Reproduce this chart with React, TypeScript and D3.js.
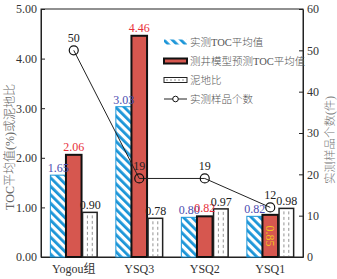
import { useEffect, useRef } from "react";
import * as d3 from "d3";

const categories = ["Yogou组", "YSQ3", "YSQ2", "YSQ1"];
const measuredToc = [1.65, 3.03, 0.8, 0.82];
const modelToc = [2.06, 4.46, 0.82, 0.85];
const mudRatio = [0.9, 0.78, 0.97, 0.98];
const sampleCount = [50, 19, 19, 12];
const leftTicks = [0, 1, 2, 3, 4, 5];
const rightTicks = [0, 10, 20, 30, 40, 50, 60];
const seriesNames = ["实测TOC平均值", "测井模型预测TOC平均值", "泥地比", "实测样品个数"];

const FONT = "'Liberation Serif', 'Times New Roman', 'Noto Sans CJK SC', serif";

export default function App() {
  const svgRef = useRef<SVGSVGElement>(null);

  useEffect(() => {
    if (!svgRef.current) return;
    const svg = d3.select(svgRef.current);
    svg.selectAll("*").remove();

    const width = 337;
    const height = 279;
    const margin = { top: 9, right: 34, bottom: 22, left: 41 };
    const innerW = width - margin.left - margin.right;
    const innerH = height - margin.top - margin.bottom;

    const defs = svg.append("defs");
    const hatch = defs
      .append("pattern")
      .attr("id", "hatch")
      .attr("patternUnits", "userSpaceOnUse")
      .attr("width", 6)
      .attr("height", 6)
      .attr("patternTransform", "rotate(-45)");
    hatch.append("rect").attr("width", 6).attr("height", 6).attr("fill", "#fff");
    hatch.append("rect").attr("width", 2.8).attr("height", 6).attr("fill", "#1b95d8");

    const g = svg
      .append("g")
      .attr("transform", `translate(${margin.left},${margin.top})`);

    const x = d3.scaleBand().domain(categories).range([0, innerW]).padding(0);
    const xs = d3
      .scaleBand()
      .domain(["m", "p", "r"])
      .range([0, x.bandwidth()])
      .paddingInner(0)
      .paddingOuter(0.6);
    const y = d3.scaleLinear().domain([0, 5]).range([innerH, 0]);
    const y2 = d3.scaleLinear().domain([0, 60]).range([innerH, 0]);

    // frame
    g.append("rect")
      .attr("width", innerW)
      .attr("height", innerH)
      .attr("fill", "none")
      .attr("stroke", "#222")
      .attr("stroke-width", 1);

    const styleAxis = (sel: any) => {
      sel.select(".domain").attr("stroke", "#222");
      sel.selectAll("line").attr("stroke", "#222");
      sel
        .selectAll("text")
        .attr("fill", "#333")
        .attr("font-size", "12px")
        .attr("font-family", FONT);
    };

    g.append("g")
      .call(
        d3
          .axisLeft(y)
          .tickValues(leftTicks)
          .tickFormat(d3.format(".2f"))
          .tickSizeInner(-4)
          .tickSizeOuter(0)
          .tickPadding(4)
      )
      .call(styleAxis);

    g.append("g")
      .attr("transform", `translate(${innerW},0)`)
      .call(
        d3
          .axisRight(y2)
          .tickValues(rightTicks)
          .tickFormat(d3.format("d"))
          .tickSizeInner(-4)
          .tickSizeOuter(0)
          .tickPadding(4)
      )
      .call(styleAxis);

    g.append("g")
      .attr("transform", `translate(0,${innerH})`)
      .call(d3.axisBottom(x).tickSize(0).tickPadding(7))
      .call(styleAxis);

    const bw = xs.bandwidth();

    // measured TOC bars (hatched)
    g.selectAll("rect.m")
      .data(categories)
      .join("rect")
      .attr("class", "m")
      .attr("x", (d) => (x(d) ?? 0) + (xs("m") ?? 0))
      .attr("y", (_, i) => y(measuredToc[i]))
      .attr("width", bw)
      .attr("height", (_, i) => innerH - y(measuredToc[i]))
      .attr("fill", "url(#hatch)")
      .attr("stroke", "#1b95d8")
      .attr("stroke-width", 1);

    // model TOC bars
    g.selectAll("rect.p")
      .data(categories)
      .join("rect")
      .attr("class", "p")
      .attr("x", (d) => (x(d) ?? 0) + (xs("p") ?? 0))
      .attr("y", (_, i) => y(modelToc[i]))
      .attr("width", bw)
      .attr("height", (_, i) => innerH - y(modelToc[i]))
      .attr("fill", "#d6574f")
      .attr("stroke", "#111")
      .attr("stroke-width", 2);

    // mudstone ratio bars
    const rb = g
      .selectAll("g.r")
      .data(categories)
      .join("g")
      .attr("class", "r");
    rb.append("rect")
      .attr("x", (d) => (x(d) ?? 0) + (xs("r") ?? 0) + 1)
      .attr("y", (_, i) => y(mudRatio[i]))
      .attr("width", bw - 1)
      .attr("height", (_, i) => innerH - y(mudRatio[i]))
      .attr("fill", "#fff")
      .attr("stroke", "#222")
      .attr("stroke-width", 1.5);
    [1 / 3, 2 / 3].forEach((f) => {
      rb.append("line")
        .attr("x1", (d) => (x(d) ?? 0) + (xs("r") ?? 0) + 1 + (bw - 1) * f)
        .attr("x2", (d) => (x(d) ?? 0) + (xs("r") ?? 0) + 1 + (bw - 1) * f)
        .attr("y1", (_, i) => y(mudRatio[i]) + 3)
        .attr("y2", innerH - 1)
        .attr("stroke", "#777")
        .attr("stroke-width", 0.8)
        .attr("stroke-dasharray", "3,2.5");
    });

    // value labels
    const labelFmt = d3.format(".2f");
    g.selectAll("text.lm")
      .data(categories)
      .join("text")
      .attr("class", "lm")
      .attr("x", (d) => (x(d) ?? 0) + (xs("m") ?? 0) + bw / 2)
      .attr("y", (_, i) => y(measuredToc[i]) - 3)
      .attr("text-anchor", "middle")
      .attr("fill", "#4b4bb0")
      .attr("font-size", "12px")
      .attr("font-family", FONT)
      .text((_, i) => labelFmt(measuredToc[i]));

    g.selectAll("text.lp")
      .data(categories.slice(0, 3))
      .join("text")
      .attr("class", "lp")
      .attr("x", (d) => (x(d) ?? 0) + (xs("p") ?? 0) + bw / 2)
      .attr("y", (_, i) => y(modelToc[i]) - 4)
      .attr("text-anchor", "middle")
      .attr("fill", "#e8303a")
      .attr("font-size", "12px")
      .attr("font-family", FONT)
      .text((_, i) => labelFmt(modelToc[i]));

    // last red label drawn vertically inside its bar
    const lastCx = (x(categories[3]) ?? 0) + (xs("p") ?? 0) + bw / 2;
    const lastCy = (y(modelToc[3]) + innerH) / 2;
    g.append("text")
      .attr("transform", `translate(${lastCx - 4},${lastCy}) rotate(90)`)
      .attr("text-anchor", "middle")
      .attr("fill", "#f2c21b")
      .attr("font-size", "12px")
      .attr("font-family", FONT)
      .text(labelFmt(modelToc[3]));

    g.selectAll("text.lr")
      .data(categories)
      .join("text")
      .attr("class", "lr")
      .attr("x", (d) => (x(d) ?? 0) + (xs("r") ?? 0) + bw / 2 + 1)
      .attr("y", (_, i) => y(mudRatio[i]) - 3)
      .attr("text-anchor", "middle")
      .attr("fill", "#222")
      .attr("font-size", "12px")
      .attr("font-family", FONT)
      .text((_, i) => labelFmt(mudRatio[i]));

    // sample count line
    const cx = (d: string) => (x(d) ?? 0) + x.bandwidth() / 2;
    const line = d3
      .line<number>()
      .x((_, i) => cx(categories[i]))
      .y((v) => y2(v));
    g.append("path")
      .datum(sampleCount)
      .attr("d", line)
      .attr("fill", "none")
      .attr("stroke", "#222")
      .attr("stroke-width", 1);
    g.selectAll("circle.c")
      .data(sampleCount)
      .join("circle")
      .attr("class", "c")
      .attr("cx", (_, i) => cx(categories[i]))
      .attr("cy", (v) => y2(v))
      .attr("r", 4.5)
      .attr("fill", "none")
      .attr("stroke", "#111")
      .attr("stroke-width", 1.2);
    g.selectAll("text.lc")
      .data(sampleCount)
      .join("text")
      .attr("class", "lc")
      .attr("x", (_, i) => cx(categories[i]))
      .attr("y", (v) => y2(v) - 8)
      .attr("text-anchor", "middle")
      .attr("fill", "#222")
      .attr("font-size", "12px")
      .attr("font-family", FONT)
      .text((v) => v);

    // legend
    const lg = svg.append("g").attr("transform", "translate(164,42)");
    const rowH = 19;
    lg.append("rect")
      .attr("x", 0).attr("y", -2.5).attr("width", 23).attr("height", 5)
      .attr("fill", "url(#hatch)");
    lg.append("rect")
      .attr("x", 0).attr("y", rowH - 2.5).attr("width", 23).attr("height", 5)
      .attr("fill", "#d6574f").attr("stroke", "#111").attr("stroke-width", 2);
    lg.append("rect")
      .attr("x", 0).attr("y", rowH * 2 - 2.5).attr("width", 23).attr("height", 5)
      .attr("fill", "#fff").attr("stroke", "#222").attr("stroke-width", 1);
    lg.append("line")
      .attr("x1", 2).attr("x2", 21).attr("y1", rowH * 2).attr("y2", rowH * 2)
      .attr("stroke", "#777").attr("stroke-width", 0.8).attr("stroke-dasharray", "2,2");
    lg.append("line")
      .attr("x1", 0).attr("x2", 23).attr("y1", rowH * 3).attr("y2", rowH * 3)
      .attr("stroke", "#222").attr("stroke-width", 1);
    lg.append("circle")
      .attr("cx", 11.5).attr("cy", rowH * 3).attr("r", 2.8)
      .attr("fill", "#fff").attr("stroke", "#111").attr("stroke-width", 1);
    lg.selectAll("text")
      .data(seriesNames)
      .join("text")
      .attr("x", 26)
      .attr("y", (_, i) => i * rowH + 4)
      .attr("fill", "#555")
      .attr("font-size", "10.5px")
      .attr("font-weight", 300)
      .attr("font-family", FONT)
      .text((d) => d);

    // axis titles
    svg
      .append("text")
      .attr("transform", `translate(14,${margin.top + innerH / 2 + 14}) rotate(-90)`)
      .attr("text-anchor", "middle")
      .attr("fill", "#666")
      .attr("font-size", "12px")
      .attr("font-weight", 300)
      .attr("font-family", FONT)
      .text("TOC平均值(%)或泥地比");
    svg
      .append("text")
      .attr("transform", `translate(334,${margin.top + innerH / 2 + 7}) rotate(-90)`)
      .attr("text-anchor", "middle")
      .attr("fill", "#777")
      .attr("font-size", "11.5px")
      .attr("font-weight", 300)
      .attr("font-family", FONT)
      .text("实测样品个数(件)");
  }, []);

  return (
    <svg
      ref={svgRef}
      width={337}
      height={279}
      style={{ position: "absolute", left: 0, top: 0, background: "#fff" }}
    />
  );
}
